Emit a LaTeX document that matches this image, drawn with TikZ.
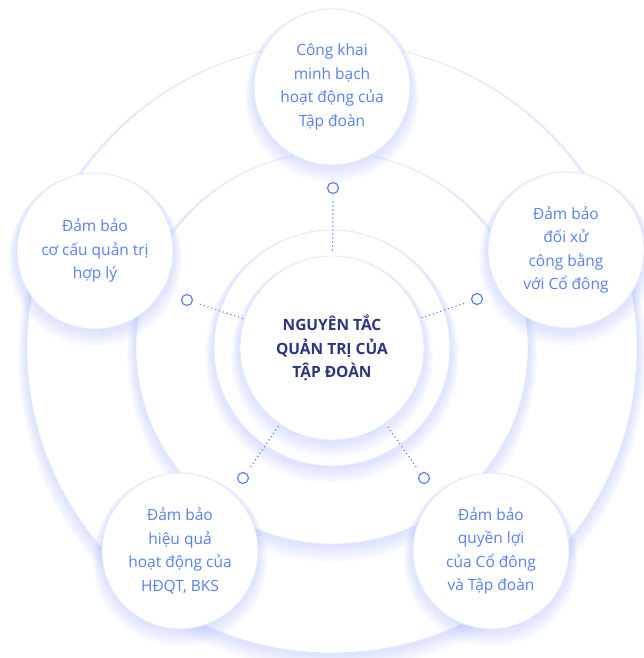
\documentclass[tikz,border=0pt]{standalone}
\usepackage{fontspec}
\setmainfont{Open Sans}
\usetikzlibrary{calc}
\definecolor{itemblue}{HTML}{5A7FF0}
\definecolor{navy}{HTML}{2D3581}
\definecolor{glowblue}{HTML}{A4B8FF}
\definecolor{edgeblue}{HTML}{E2E8FF}
\tikzset{
  ring/.style={fill=white,draw=edgeblue,line width=0.8pt},
  item/.style={circle,fill=white,draw=edgeblue,line width=0.8pt,inner sep=0pt,
    minimum size=156pt,text=itemblue,align=center,font=\fontsize{15.5}{23.5}\selectfont},
  marker/.style={circle,draw=itemblue,line width=1.2pt,fill=white,minimum size=11pt,inner sep=0pt},
  link/.style={draw=itemblue,line width=1.6pt,line cap=round,dash pattern=on 0pt off 4pt,
    shorten <=8pt,shorten >=2pt},
}
% soft blue halo under a disk: centre, radius
\newcommand{\halo}[2]{%
  \foreach \i in {1,...,10}
    \fill[glowblue,opacity=0.04] ($(#1)+(0,0.9*\i)$) circle ({#2+\i*0.9pt});
}
\begin{document}
\begin{tikzpicture}[x=1pt,y=-1pt]
    %\draw[help lines] (0,0) grid (643,658);
    \useasboundingbox (0,0) rectangle (643,658);
    \fill[white] (0,0) rectangle (643,658);
    % rings
    \halo{332,348}{305pt}
    \draw[ring] (332,348) circle (305pt);
    \halo{332,348}{196pt}
    \draw[ring] (332,348) circle (196pt);
    \halo{332,348}{118pt}
    \draw[ring] (332,348) circle (118pt);
    \halo{332,348}{92pt}
    \node[circle,fill=white,draw=edgeblue,line width=0.8pt,minimum size=184pt,inner sep=0pt,
      text=navy,align=center,font=\fontsize{15.5}{23.5}\selectfont\bfseries] (core) at (332,348)
      {NGUYÊN TẮC\\QUẢN TRỊ CỦA\\TẬP ĐOÀN};
    % items
    \halo{332,87}{78pt}
    \node[item] (cong) at (332,87) {Công khai\\minh bạch\\hoạt động của\\Tập đoàn};
    \halo{95,251}{78pt}
    \node[item] (cocau) at (95,251) {Đảm bảo\\cơ cấu quản trị\\hợp lý};
    \halo{566,250}{78pt}
    \node[item] (doixu) at (566,250) {Đảm bảo\\đối xử\\công bằng\\với Cổ đông};
    \halo{180,551}{78pt}
    \node[item] (hieuqua) at (180,551) {Đảm bảo\\hiệu quả\\hoạt động của\\HĐQT, BKS};
    \halo{491,551}{78pt}
    \node[item] (quyenloi) at (491,551) {Đảm bảo\\quyền lợi\\của Cổ đông\\và Tập đoàn};
    % markers and dotted links
    \node[marker] (mcong) at (333,188) {};
    \node[marker] (mcocau) at (187,300) {};
    \node[marker] (mdoixu) at (477,299) {};
    \node[marker] (mhieuqua) at (243,478) {};
    \node[marker] (mquyenloi) at (424,478) {};
    \foreach \m in {mcong,mcocau,mdoixu,mhieuqua,mquyenloi}
      \draw[link] (\m) -- (core);
\end{tikzpicture}
\end{document}
